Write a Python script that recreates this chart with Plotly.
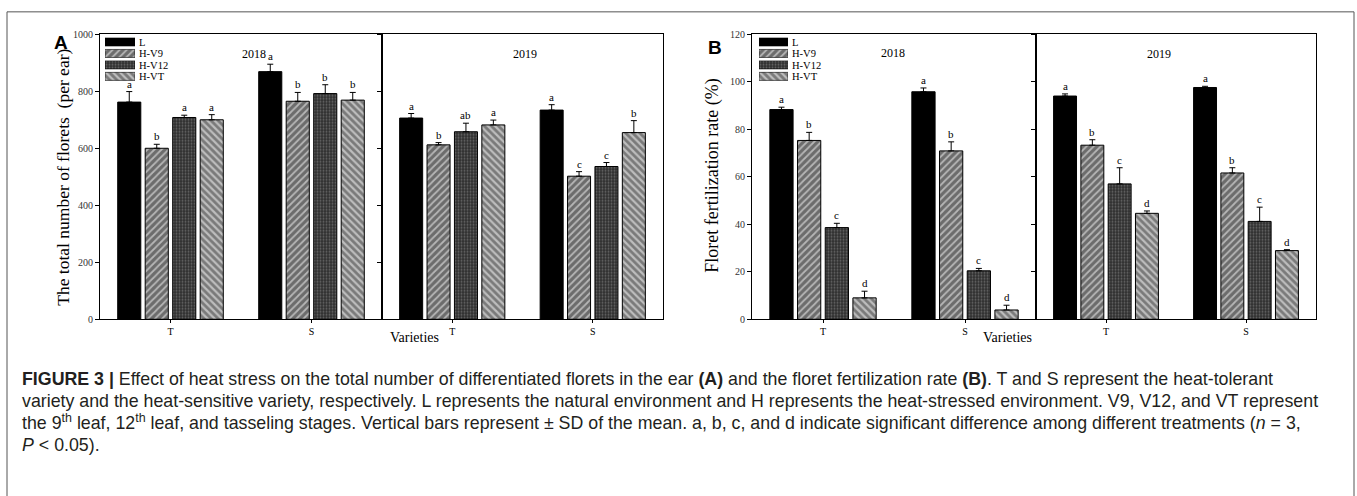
import plotly.graph_objects as go

# ---------------- data ----------------
varieties = ["T", "S"]
years = ["2018", "2019"]
series = ["L", "H-V9", "H-V12", "H-VT"]

# rows = series (L, H-V9, H-V12, H-VT), cols = varieties (T, S)
florets_2018 = [[762, 869], [600, 765], [708, 792], [700, 769]]
florets_2018_sd = [[37, 26], [14, 31], [8, 31], [18, 27]]
florets_2019 = [[706, 734], [612, 502], [658, 536], [682, 655]]
florets_2019_sd = [[16, 19], [8, 16], [30, 14], [17, 42]]
florets_2018_sig = [["a", "a"], ["b", "b"], ["a", "b"], ["a", "b"]]
florets_2019_sig = [["a", "a"], ["b", "c"], ["ab", "c"], ["a", "b"]]

fert_2018 = [[88.3, 95.8], [75.3, 70.9], [38.6, 20.4], [9.0, 3.9]]
fert_2018_sd = [[1.0, 1.6], [3.4, 3.8], [1.8, 1.0], [2.8, 2.0]]
fert_2019 = [[94.0, 97.6], [73.3, 61.6], [57.0, 41.2], [44.6, 28.9]]
fert_2019_sd = [[0.9, 0.5], [2.3, 2.2], [6.8, 6.0], [1.0, 0.4]]
fert_2018_sig = [["a", "a"], ["b", "b"], ["c", "c"], ["d", "d"]]
fert_2019_sig = [["a", "a"], ["b", "b"], ["c", "c"], ["d", "d"]]

florets_ticks = [0, 200, 400, 600, 800, 1000]
fert_ticks = [0, 20, 40, 60, 80, 100, 120]

# ---------------- styles ----------------
W, H = 1357, 496
SERIF = "Liberation Serif, Times New Roman, serif"
SANS = "Liberation Sans, Arial, sans-serif"

styles = [
    dict(color="black", pattern=dict(shape="")),
    dict(color="#6c6c6c", pattern=dict(shape="/", bgcolor="#6c6c6c", fgcolor="white", size=5, solidity=0.35)),
    dict(color="#2e2e2e", pattern=dict(shape=".", bgcolor="#2e2e2e", fgcolor="#a0a0a0", size=3, solidity=0.35)),
    dict(color="#7a7a7a", pattern=dict(shape="\\", bgcolor="#7a7a7a", fgcolor="white", size=5, solidity=0.45)),
]

BARGAP = 0.22
GROUPGAP = 0.16
slot = (1 - BARGAP) / len(series)


def px(v):
    return v / W


def py(v):
    return 1 - v / H


fig = go.Figure()

panels = [
    (florets_2018, florets_2018_sd, florets_2018_sig, ""),
    (florets_2019, florets_2019_sd, florets_2019_sig, "2"),
    (fert_2018, fert_2018_sd, fert_2018_sig, "3"),
    (fert_2019, fert_2019_sd, fert_2019_sig, "4"),
]

annotations = []
for vals, sds, sigs, ax in panels:
    for i, name in enumerate(series):
        st = styles[i]
        fig.add_trace(go.Bar(
            x=varieties, y=vals[i], name=name, showlegend=False,
            xaxis="x" + ax, yaxis="y" + ax,
            marker=dict(color=st["color"], pattern=st["pattern"],
                        line=dict(color="black", width=1)),
            error_y=dict(type="data", array=sds[i], arrayminus=[0] * len(varieties),
                         symmetric=False, color="black", thickness=1, width=3),
        ))
        for j, v in enumerate(varieties):
            annotations.append(dict(
                x=j + (i - (len(series) - 1) / 2) * slot, y=vals[i][j] + sds[i][j],
                xref="x" + ax, yref="y" + ax, text=sigs[i][j], showarrow=False,
                yanchor="bottom", yshift=0, font=dict(family=SERIF, size=11, color="black"),
            ))

# mini legends (horizontal swatches + labels)
for ax in ["5", "6"]:
    for i, name in enumerate(series):
        st = styles[i]
        fig.add_trace(go.Bar(
            x=[1], y=[name], orientation="h", showlegend=False, hoverinfo="skip",
            xaxis="x" + ax, yaxis="y" + ax,
            marker=dict(color=st["color"], pattern=st["pattern"],
                        line=dict(color="black", width=0.6)),
            width=0.7,
        ))

PLOT_TOP, PLOT_BOT = 29, 321
ydom = [py(PLOT_BOT), py(PLOT_TOP)]

xcommon = dict(type="category", categoryorder="array", categoryarray=varieties,
               range=[-0.5, len(varieties) - 0.5], showline=True, mirror=True,
               linecolor="black", linewidth=1, ticks="outside", ticklen=3,
               tickcolor="black", tickfont=dict(family=SERIF, size=10, color="black"),
               showgrid=False, zeroline=False)


def yaxis(rng, ticks, anchor, labels):
    return dict(domain=ydom, anchor=anchor, range=rng, tickvals=ticks,
                showline=True, mirror=True, linecolor="black", linewidth=1,
                ticks="outside", ticklen=4, tickcolor="black", showticklabels=labels,
                tickfont=dict(family=SERIF, size=10, color="#333"),
                showgrid=False, zeroline=False)


legcommon_x = dict(visible=False, range=[0, 1])


def legy(anchor):
    return dict(domain=[py(78), py(31)], anchor=anchor, type="category",
                categoryorder="array", categoryarray=series, autorange="reversed",
                tickmode="array", tickvals=series, ticktext=series,
                side="right", showline=False, ticks="", showgrid=False, zeroline=False,
                ticklabelstandoff=3, tickfont=dict(family=SERIF, size=10.5, color="black"))


fig.update_layout(
    width=W, height=H, margin=dict(l=0, r=0, t=0, b=0),
    paper_bgcolor="white", plot_bgcolor="white",
    barmode="group", bargap=BARGAP, bargroupgap=GROUPGAP,
    xaxis=dict(domain=[px(100), px(382)], anchor="y", **xcommon),
    xaxis2=dict(domain=[px(382), px(663)], anchor="y2", **xcommon),
    xaxis3=dict(domain=[px(752), px(1036)], anchor="y3", **xcommon),
    xaxis4=dict(domain=[px(1036), px(1316)], anchor="y4", **xcommon),
    yaxis=yaxis([0, 1000], florets_ticks, "x", True),
    yaxis2=yaxis([0, 1000], florets_ticks, "x2", False),
    yaxis3=yaxis([0, 120], fert_ticks, "x3", True),
    yaxis4=yaxis([0, 120], fert_ticks, "x4", False),
    xaxis5=dict(domain=[px(105), px(135)], anchor="y5", **legcommon_x),
    yaxis5=legy("x5"),
    xaxis6=dict(domain=[px(759), px(788)], anchor="y6", **legcommon_x),
    yaxis6=legy("x6"),
    showlegend=False,
)


def ann(x, y, text, size, family=SERIF, **kw):
    d = dict(x=px(x), y=py(y), xref="paper", yref="paper", text=text, showarrow=False,
             font=dict(family=family, size=size, color=kw.pop("color", "black")))
    d.update(kw)
    annotations.append(d)


ann(52, 25, "<b>A</b>", 19, SANS)
ann(715, 30, "<b>B</b>", 19, SANS)
ann(51, 176, "The total number of florets  (per ear)", 17.5, textangle=-90)
ann(713, 174, "Floret fertilization rate (%)", 18, textangle=-90)
ann(240, 40, "2018", 12)
ann(525, 40, "2019", 12)
ann(893, 39, "2018", 12)
ann(1173, 40, "2019", 12)
ann(388, 349, "Varieties", 14)
ann(1034, 349, "Varieties", 14)

caption = [
    "<b>FIGURE 3 |</b> Effect of heat stress on the total number of differentiated florets in the ear <b>(A)</b> and the floret fertilization rate <b>(B)</b>. T and S represent the heat-tolerant",
    "variety and the heat-sensitive variety, respectively. L represents the natural environment and H represents the heat-stressed environment. V9, V12, and VT represent",
    "the 9<sup>th</sup> leaf, 12<sup>th</sup> leaf, and tasseling stages. Vertical bars represent ± SD of the mean. a, b, c, and d indicate significant difference among different treatments (<i>n</i> = 3,",
    "<i>P</i> < 0.05).",
]
caption_y = [395, 417, 440, 462]
for line, yy in zip(caption, caption_y):
    ann(20, yy, line, 17.8, SANS, xanchor="left", color="#231f20")

fig.update_layout(annotations=annotations)

fig.add_shape(type="rect", xref="paper", yref="paper", x0=px(7), x1=px(1354),
              y0=-0.05, y1=py(6), line=dict(color="#555", width=1), layer="below")

fig.write_html("out.html", config={"displayModeBar": False},
               post_script="document.body.style.margin='0px';")
